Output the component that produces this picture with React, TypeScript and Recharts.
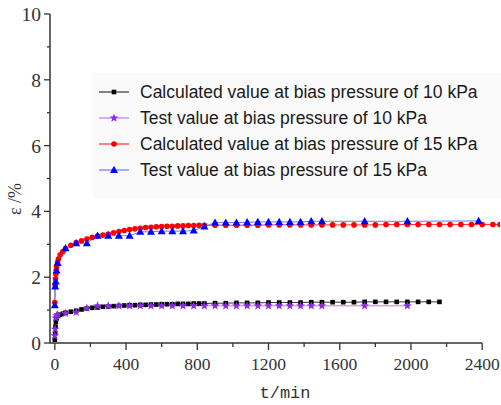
import { LineChart, Line, XAxis, YAxis, Legend, ReferenceLine } from 'recharts'

// time grids (min)
const calcTimes = [
  0, 2, 4, 6, 8, 10, 15, 20, 30, 45, 60, 90, 120, 150, 180, 210, 240, 270, 300, 330, 360, 390,
  420, 450, 480, 510, 540, 570, 600, 630, 660, 690, 720, 750, 780, 810, 840, 900, 960, 1020,
  1080, 1140, 1200, 1260, 1320, 1380, 1440, 1500, 1560, 1620, 1680, 1740, 1800, 1860, 1920,
  1980, 2040, 2100, 2160, 2220, 2280, 2340, 2400, 2460, 2500,
]
const testTimes = [
  0, 2, 5, 10, 16, 60, 120, 180, 240, 300, 360, 420, 480, 540, 600, 660, 720, 780, 840, 900,
  960, 1020, 1080, 1140, 1200, 1260, 1320, 1380, 1440, 1500, 1740, 1980, 2380,
]

// strain (%)
const calc10 = [
  0.1, 0.3, 0.5, 0.65, 0.74, 0.78, 0.82, 0.84, 0.86, 0.89, 0.92, 0.95, 0.98, 1.02, 1.05, 1.07,
  1.08, 1.1, 1.11, 1.12, 1.13, 1.14, 1.15, 1.15, 1.16, 1.16, 1.17, 1.17, 1.18, 1.18, 1.18, 1.19,
  1.19, 1.19, 1.2, 1.2, 1.2, 1.21, 1.21, 1.22, 1.22, 1.22, 1.23, 1.23, 1.23, 1.23, 1.24, 1.24,
  1.24, 1.24, 1.24, 1.25, 1.25, 1.25, 1.25, 1.25, 1.25, 1.25, 1.25,
]
const test10 = [
  0.22, 0.42, 0.76, 0.83, 0.86, 0.9, 0.93, 1.06, 1.13, 1.13, 1.13, 1.13, 1.13, 1.13, 1.13, 1.13,
  1.13, 1.13, 1.13, 1.13, 1.13, 1.13, 1.13, 1.13, 1.13, 1.13, 1.13, 1.13, 1.13, 1.13, 1.13, 1.13,
]
const calc15 = [
  1.23, 1.75, 1.95, 2.1, 2.22, 2.32, 2.45, 2.55, 2.68, 2.78, 2.87, 2.97, 3.05, 3.11, 3.16, 3.21,
  3.25, 3.28, 3.31, 3.35, 3.39, 3.42, 3.45, 3.47, 3.49, 3.51, 3.52, 3.53, 3.54, 3.55, 3.55, 3.56,
  3.56, 3.57, 3.57, 3.58, 3.58, 3.58, 3.58, 3.58, 3.58, 3.58, 3.59, 3.59, 3.59, 3.59, 3.59, 3.59,
  3.59, 3.59, 3.59, 3.59, 3.59, 3.6, 3.6, 3.6, 3.6, 3.6, 3.6, 3.6, 3.6, 3.6, 3.6, 3.6, 3.6,
]
const test15 = [
  1.15, 1.72, 1.87, 2.2, 2.43, 2.88, 3.03, 3.03, 3.26, 3.26, 3.26, 3.26, 3.38, 3.38, 3.4, 3.4,
  3.4, 3.42, 3.54, 3.66, 3.66, 3.66, 3.67, 3.68, 3.68, 3.68, 3.68, 3.68, 3.7, 3.7, 3.7, 3.7, 3.71,
]

const xTicks = [0, 200, 400, 600, 800, 1000, 1200, 1400, 1600, 1800, 2000, 2200, 2400]
const yTicks = [0, 1, 2, 3, 4, 5, 6, 7, 8, 9, 10]

const SERIF = 'Liberation Serif, Times New Roman, Times, DejaVu Serif, serif'
const MONO = 'Liberation Mono, Courier New, Courier, monospace'

const toPoints = (ts: number[], vs: number[]) => vs.map((v, i) => ({ t: ts[i], v }))

const starPath = (cx: number, cy: number, R: number, r: number) => {
  let d = ''
  for (let i = 0; i < 10; i++) {
    const a = ((-90 + i * 36) * Math.PI) / 180
    const rad = i % 2 ? r : R
    d += (i ? 'L' : 'M') + (cx + rad * Math.cos(a)).toFixed(2) + ',' + (cy + rad * Math.sin(a)).toFixed(2)
  }
  return d + 'Z'
}

type Shape = 'square' | 'star' | 'circle' | 'triangle'

const Marker = ({ shape, cx, cy, color }: { shape: Shape; cx: number; cy: number; color: string }) => {
  if (shape === 'square') return <rect x={cx - 2.3} y={cy - 2.3} width={4.6} height={4.6} fill={color} />
  if (shape === 'circle') return <circle cx={cx} cy={cy} r={2.8} fill={color} />
  if (shape === 'triangle')
    return <polygon points={`${cx},${cy - 4.2} ${cx - 4},${cy + 3} ${cx + 4},${cy + 3}`} fill={color} />
  return <path d={starPath(cx, cy, 4.6, 1.9)} fill={color} />
}

const series = [
  { name: 'Calculated value at bias pressure of 10 kPa', data: toPoints(calcTimes, calc10), shape: 'square' as Shape, color: '#000', line: '#333' },
  { name: 'Test value at bias pressure of 10 kPa', data: toPoints(testTimes, test10), shape: 'star' as Shape, color: '#8a2be2', line: '#b77cff' },
  { name: 'Calculated value at bias pressure of 15 kPa', data: toPoints(calcTimes, calc15), shape: 'circle' as Shape, color: '#ff0000', line: '#ff3030' },
  { name: 'Test value at bias pressure of 15 kPa', data: toPoints(testTimes, test15), shape: 'triangle' as Shape, color: '#0000ff', line: '#6b7bff' },
]

const XTick = (props: any) => {
  const { x, y, payload } = props
  const major = payload.value % 400 === 0
  return (
    <g>
      <line x1={x} x2={x} y1={y} y2={y + (major ? 7 : 4)} stroke="#333" strokeWidth={1.3} />
      {major && (
        <text x={x} y={y + 27} textAnchor="middle" fontFamily={SERIF} fontSize={17.5} fill="#333">
          {payload.value}
        </text>
      )}
    </g>
  )
}

const YTick = (props: any) => {
  const { x, y, payload } = props
  const major = payload.value % 2 === 0
  return (
    <g>
      <line x1={x - (major ? 6 : 3)} x2={x} y1={y} y2={y} stroke="#333" strokeWidth={1.3} />
      {major && (
        <text x={x - 9} y={y + 7} textAnchor="end" fontFamily={SERIF} fontSize={19.5} fill="#333">
          {payload.value}
        </text>
      )}
    </g>
  )
}

const LegendBox = () => (
  <div style={{ padding: '6px 0 0 0' }}>
    {series.map((s) => (
      <div key={s.name} style={{ display: 'flex', alignItems: 'center', height: 26 }}>
        <svg width={40} height={26}>
          <line x1={6} x2={36} y1={13} y2={13} stroke={s.line} strokeWidth={1.2} />
          <Marker shape={s.shape} cx={21} cy={13} color={s.color} />
        </svg>
        <span
          style={{
            marginLeft: 7,
            fontFamily: "'Liberation Sans', Arial, sans-serif",
            fontSize: 17.5,
            color: '#1a1a1a',
            whiteSpace: 'nowrap',
          }}
        >
          {s.name}
        </span>
      </div>
    ))}
  </div>
)

export default function App() {
  return (
    <div
      style={{ position: 'absolute', left: 0, top: 0, width: 501, height: 405, background: '#fff', fontFamily: SERIF }}
    >
      <LineChart width={501} height={405} margin={{ top: 14, right: 1, left: 0, bottom: 0 }}>
        <XAxis
          type="number"
          dataKey="t"
          domain={[-27, 2500]}
          ticks={xTicks}
          interval={0}
          allowDataOverflow
          axisLine={false}
          tickLine={false}
          tickSize={0}
          tickMargin={0}
          height={62}
          tick={XTick}
          label={{
            content: () => (
              <text x={285} y={398} textAnchor="middle" fontFamily={MONO} fontSize={17} fill="#333">
                t/min
              </text>
            ),
          }}
        />
        <YAxis
          type="number"
          dataKey="v"
          domain={[0, 10]}
          ticks={yTicks}
          interval={0}
          allowDataOverflow
          width={50}
          axisLine={{ stroke: '#333', strokeWidth: 1.5 }}
          tickLine={false}
          tickSize={0}
          tickMargin={0}
          tick={YTick}
          label={{
            content: () => (
              <text
                transform="translate(15,199) rotate(-90)"
                textAnchor="middle"
                dominantBaseline="central"
                fontFamily={SERIF}
                fontSize={18}
                fill="#333"
              >
                ε /%
              </text>
            ),
          }}
        />
        <ReferenceLine
          segment={[
            { x: -27, y: 0 },
            { x: 2400, y: 0 },
          ]}
          stroke="#333"
          strokeWidth={1.5}
          ifOverflow="visible"
        />
        <Legend
          layout="vertical"
          align="center"
          verticalAlign="middle"
          content={LegendBox}
          wrapperStyle={{ left: 93, top: 73, bottom: 'auto', width: 408, height: 125, background: '#fafafa' }}
        />
        {series.map((s) => (
          <Line
            key={s.name}
            name={s.name}
            data={s.data}
            dataKey="v"
            type="linear"
            stroke={s.line}
            strokeWidth={1}
            isAnimationActive={false}
            activeDot={false}
            dot={(p: any) => <Marker key={`${s.shape}-${p.index}`} shape={s.shape} cx={p.cx} cy={p.cy} color={s.color} />}
          />
        ))}
      </LineChart>
    </div>
  )
}
